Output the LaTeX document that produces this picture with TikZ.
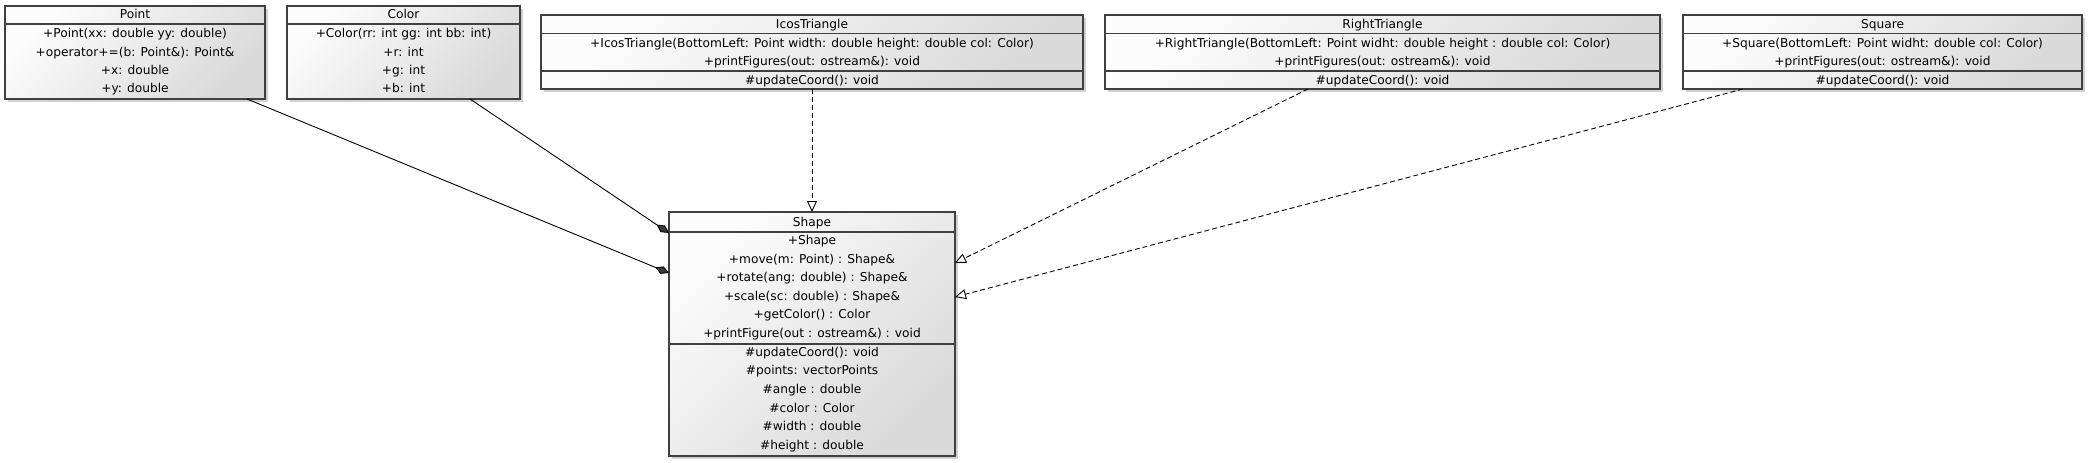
\documentclass[tikz,border=0pt]{standalone}
\usepackage{fontspec}
\setmainfont{DejaVu Sans}
\usetikzlibrary{arrows.meta,shadows}
\definecolor{boxline}{HTML}{404040}
\definecolor{gfrom}{HTML}{FCFCFC}
\definecolor{gto}{HTML}{DADADA}
\definecolor{diafill}{HTML}{3A3A3A}
\begin{document}
\begin{tikzpicture}[x=1pt,y=-1pt,
  cls/.style={draw=boxline, line width=1.4pt, inner sep=0pt, outer sep=0pt,
    top color=gfrom, bottom color=gto, shading angle=45,
    drop shadow={shadow xshift=2.5pt, shadow yshift=-2.5pt, opacity=0.18, fill=black}},
  txt/.style={font=\fontsize{12.2pt}{14pt}\selectfont, inner sep=0pt, anchor=base},
  divider/.style={draw=boxline, line width=1.4pt},
  comp/.style={draw=black, line width=0.9pt, -{Diamond[length=15pt,width=8pt,fill=diafill]}},
  realize/.style={draw=black, line width=0.9pt, dash pattern=on 5pt off 3pt,
    -{Triangle[open,length=11pt,width=10pt,fill=white]}}]
\useasboundingbox (0,0) rectangle (2088,463);

% ---------- boxes
\node[cls, minimum width=260pt, minimum height=93pt] (point) at (135,52.5) {};
\node[cls, minimum width=233pt, minimum height=93pt] (color) at (403.5,52.5) {};
\node[cls, minimum width=542pt, minimum height=74pt] (icos) at (812,52) {};
\node[cls, minimum width=555pt, minimum height=74pt] (rtri) at (1382.5,52) {};
\node[cls, minimum width=399pt, minimum height=74pt] (square) at (1882.5,52) {};
\node[cls, minimum width=286pt, minimum height=244pt] (shape) at (812,334) {};

% ---------- dividers
\draw[divider] ([yshift=-18pt]point.north west) -- ([yshift=-18pt]point.north east);
\draw[divider] ([yshift=-18pt]color.north west) -- ([yshift=-18pt]color.north east);
\foreach \b in {icos,rtri,square}{
  \draw[divider] ([yshift=-18.3pt]\b.north west) -- ([yshift=-18.3pt]\b.north east);
  \draw[divider] ([yshift=-56pt]\b.north west) -- ([yshift=-56pt]\b.north east);
}
\draw[divider] ([yshift=-20pt]shape.north west) -- ([yshift=-20pt]shape.north east);
\draw[divider] ([yshift=-132pt]shape.north west) -- ([yshift=-132pt]shape.north east);

% ---------- Point
\node[txt] (pointT) at (135,18.8) {Point};
\node[txt] (pointA) at (135,37.6) {+Point(xx: double yy: double)};
\node[txt] (pointB) at (135,56) {+operator+=(b: Point\&): Point\&};
\node[txt] (pointC) at (135,74.3) {+x: double};
\node[txt] (pointD) at (135,92.6) {+y: double};

% ---------- Color
\node[txt] (colorT) at (403.5,18.8) {Color};
\node[txt] (colorA) at (403.5,37.6) {+Color(rr: int gg: int bb: int)};
\node[txt] (colorB) at (403.5,56) {+r: int};
\node[txt] (colorC) at (403.5,74.3) {+g: int};
\node[txt] (colorD) at (403.5,92.6) {+b: int};

% ---------- IcosTriangle
\node[txt] (icosT) at (812,28.3) {IcosTriangle};
\node[txt] (icosA) at (812,47) {+IcosTriangle(BottomLeft: Point width: double height: double col: Color)};
\node[txt] (icosB) at (812,65.8) {+printFigures(out: ostream\&): void};
\node[txt] (icosC) at (812,84.3) {\#updateCoord(): void};

% ---------- RightTriangle
\node[txt] (rtriT) at (1382.5,28.3) {RightTriangle};
\node[txt] (rtriA) at (1382.5,47) {+RightTriangle(BottomLeft: Point widht: double height : double col: Color)};
\node[txt] (rtriB) at (1382.5,65.8) {+printFigures(out: ostream\&): void};
\node[txt] (rtriC) at (1382.5,84.3) {\#updateCoord(): void};

% ---------- Square
\node[txt] (squareT) at (1882.5,28.3) {Square};
\node[txt] (squareA) at (1882.5,47) {+Square(BottomLeft: Point widht: double col: Color)};
\node[txt] (squareB) at (1882.5,65.8) {+printFigures(out: ostream\&): void};
\node[txt] (squareC) at (1882.5,84.3) {\#updateCoord(): void};

% ---------- Shape
\node[txt] (shapeT) at (812,226.3) {Shape};
\node[txt] (shapeA) at (812,244.8) {+Shape};
\node[txt] (shapeB) at (812,263.3) {+move(m: Point) : Shape\&};
\node[txt] (shapeC) at (812,281.8) {+rotate(ang: double) : Shape\&};
\node[txt] (shapeD) at (812,300.3) {+scale(sc: double) : Shape\&};
\node[txt] (shapeE) at (812,318.8) {+getColor() : Color};
\node[txt] (shapeF) at (812,337.3) {+printFigure(out : ostream\&) : void};
\node[txt] (shapeG) at (812,356.3) {\#updateCoord(): void};
\node[txt] (shapeH) at (812,374.9) {\#points: vectorPoints};
\node[txt] (shapeI) at (812,393.5) {\#angle : double};
\node[txt] (shapeJ) at (812,412.1) {\#color : Color};
\node[txt] (shapeK) at (812,430.7) {\#width : double};
\node[txt] (shapeL) at (812,449.3) {\#height : double};

% ---------- connectors
\draw[comp] ([xshift=112pt]point.south) -- ([yshift=61pt]shape.west);
\draw[comp] ([xshift=66.5pt]color.south) -- ([yshift=101pt]shape.west);
\draw[realize] (icos.south) -- (shape.north);
\draw[realize] ([xshift=-74.5pt]rtri.south) -- ([yshift=71pt]shape.east);
\draw[realize] ([xshift=-139.5pt]square.south) -- ([yshift=37pt]shape.east);
\end{tikzpicture}
\end{document}
